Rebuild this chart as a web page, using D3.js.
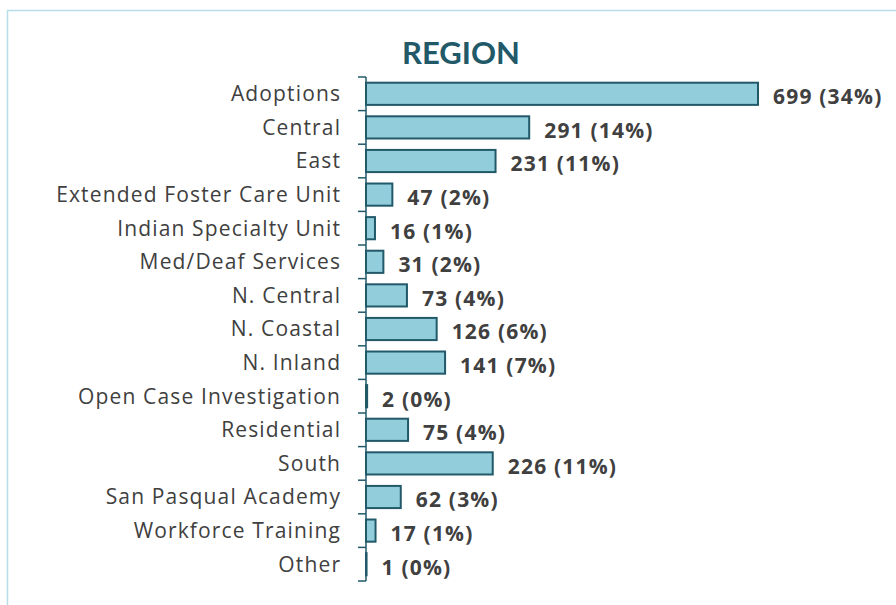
<!DOCTYPE html>
<html><head><meta charset="utf-8">
<script src="https://cdn.jsdelivr.net/npm/d3@7"></script>
<style>body{margin:0;background:#fff}svg{display:block}</style>
</head><body>
<script>
const categories = ["Adoptions","Central","East","Extended Foster Care Unit","Indian Specialty Unit","Med/Deaf Services","N. Central","N. Coastal","N. Inland","Open Case Investigation","Residential","South","San Pasqual Academy","Workforce Training","Other"];
const counts = [699,291,231,47,16,31,73,126,141,2,75,226,62,17,1];
const percents = ["34%","14%","11%","2%","1%","2%","4%","6%","7%","0%","4%","11%","3%","1%","0%"];
const title = "REGION";

const W = 896, H = 605;
const svg = d3.select("body").append("svg").attr("width", W).attr("height", H);
const font = "'Open Sans', 'Noto Sans', sans-serif";

svg.append("rect").attr("x", 7.5).attr("y", 10.5).attr("width", W).attr("height", H)
  .attr("fill", "none").attr("stroke", "#b7dde8").attr("stroke-width", 1.5);

svg.append("text").attr("x", 461).attr("y", 64).attr("text-anchor", "middle")
  .attr("font-family", "Lato, sans-serif").attr("font-weight", "bold").attr("font-size", 31)
  .attr("fill", "#215968").text(title);

const x0 = 366;
const x = d3.scaleLinear().domain([0, 699]).range([x0, 758]);
const y = d3.scaleBand().domain(categories).range([77, 581]).paddingInner(0.34).paddingOuter(0.17);

const axisColor = "#215968";
const step = y.step();
svg.append("line").attr("x1", x0).attr("x2", x0).attr("y1", 77).attr("y2", 581)
  .attr("stroke", axisColor).attr("stroke-width", 1.5);
d3.range(categories.length + 1).forEach(i => {
  const yy = 77 + i * step;
  svg.append("line").attr("x1", x0 - 8).attr("x2", x0).attr("y1", yy).attr("y2", yy)
    .attr("stroke", axisColor).attr("stroke-width", 1.5);
});

svg.selectAll("rect.bar").data(categories).enter().append("rect").attr("class", "bar")
  .attr("x", x0).attr("y", d => y(d))
  .attr("width", (d, i) => x(counts[i]) - x0).attr("height", y.bandwidth())
  .attr("fill", "#92cddc").attr("stroke", "#215968").attr("stroke-width", 2);

const ls = 1.15;
svg.selectAll("text.cat").data(categories).enter().append("text").attr("class", "cat")
  .attr("x", 340 + ls).attr("y", d => y(d) + y.bandwidth() / 2).attr("dy", "0.35em")
  .attr("text-anchor", "end").attr("font-family", font).attr("font-size", 21)
  .attr("letter-spacing", ls)
  .attr("fill", "#404040").text(d => d);

svg.selectAll("text.val").data(categories).enter().append("text").attr("class", "val")
  .attr("x", (d, i) => x(counts[i]) + 15).attr("y", d => y(d) + y.bandwidth() / 2 + 3).attr("dy", "0.35em")
  .attr("font-family", font).attr("font-weight", "bold").attr("font-size", 21)
  .attr("letter-spacing", 1.2)
  .attr("fill", "#404040").text((d, i) => counts[i] + " (" + percents[i] + ")");
</script>
</body></html>
